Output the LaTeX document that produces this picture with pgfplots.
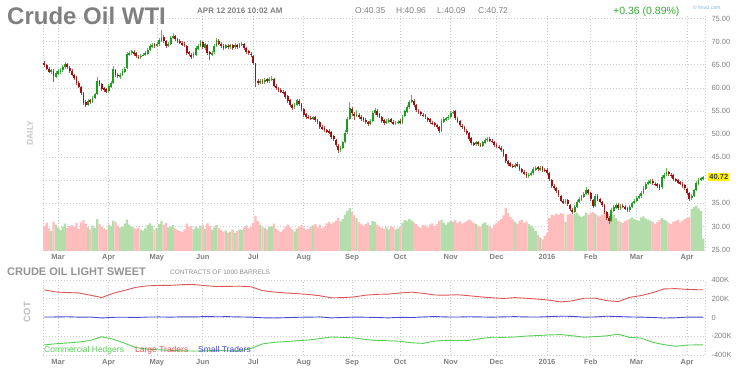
\documentclass[border=0pt]{standalone}
\usepackage{pgfplots}
\usepackage{pgfplotstable}
\pgfplotsset{compat=1.18}
\usepackage{fontspec}
\setmainfont{Liberation Sans}

\definecolor{gridc}{HTML}{CDCDCD}
\definecolor{labc}{HTML}{808080}
\definecolor{upc}{HTML}{1E9E1E}
\definecolor{dnc}{HTML}{A50E0E}
\definecolor{upw}{HTML}{5DB85D}
\definecolor{dnw}{HTML}{B85050}
\definecolor{volup}{HTML}{B3DEAB}
\definecolor{voldn}{HTML}{FFBDBD}
\definecolor{cotr}{HTML}{DD5555}
\definecolor{cotb}{HTML}{4848D8}
\definecolor{cotg}{HTML}{55D055}
\definecolor{gainc}{HTML}{35A835}
\definecolor{fvblue}{HTML}{7FB2E0}

\pgfplotstableread{
x o h l c v
-6 65.4 65.8 64.6 65.0 30.2
-5 65.0 65.2 63.8 64.2 30.8
-4 64.1 64.5 63.2 63.5 29.6
-3 63.4 64.2 63.0 63.8 29.0
-2 63.7 64.0 61.3 62.5 31.0
-1 62.4 63.6 62.1 63.2 30.4
0 63.1 64.0 62.7 63.6 29.8
1 63.5 64.3 63.1 63.9 29.2
2 63.8 65.0 63.5 64.6 30.0
3 64.5 65.6 64.2 65.2 30.6
4 65.1 65.4 64.1 64.5 29.7
5 64.4 64.7 63.3 63.6 30.1
6 63.7 64.0 62.6 62.9 30.3
7 62.8 63.1 61.8 62.2 29.9
8 62.3 62.6 60.7 61.0 30.8
9 61.1 61.4 59.9 60.3 29.5
10 60.2 60.5 58.4 58.8 30.9
11 58.9 59.1 56.4 56.8 31.4
12 56.9 57.3 55.8 56.2 30.5
13 56.3 57.6 56.0 57.2 29.8
14 57.3 57.7 56.5 56.9 29.4
15 56.9 58.3 56.7 57.9 30.2
16 57.8 59.0 57.5 58.6 29.7
17 58.7 62.3 58.5 61.5 31.6
18 61.4 61.8 60.4 60.8 30.5
19 60.9 61.1 59.4 59.8 30.0
20 59.9 60.3 59.2 59.6 29.6
21 59.7 60.0 58.8 59.2 29.3
22 59.3 60.8 59.0 60.4 30.4
23 60.3 61.4 60.0 61.0 30.1
24 61.1 64.8 60.9 64.0 31.3
25 63.9 64.2 62.4 62.8 31.0
26 62.9 63.3 62.1 62.5 30.2
27 62.4 63.3 62.0 62.9 29.8
28 62.8 64.0 62.5 63.6 30.0
29 63.5 64.6 63.2 64.2 30.6
30 64.3 67.8 64.1 67.3 31.5
31 67.2 68.0 66.8 67.6 30.4
32 67.5 68.3 67.1 67.9 30.0
33 67.8 68.2 67.0 67.4 29.7
34 67.5 67.7 66.5 66.9 29.5
35 66.8 67.1 66.2 66.6 29.8
36 66.6 67.4 66.3 67.0 29.3
37 67.0 67.6 66.8 67.2 29.1
38 67.1 67.9 66.8 67.5 29.6
39 67.4 68.6 67.1 68.2 30.3
40 68.1 69.5 67.9 69.1 30.7
41 69.0 69.8 68.7 69.3 30.2
42 69.4 69.7 68.6 69.0 29.4
43 69.1 69.9 68.8 69.5 29.7
44 69.4 70.7 69.1 70.3 30.5
45 70.2 72.5 69.9 71.0 31.2
46 71.1 71.4 69.8 70.2 30.4
47 70.1 70.4 68.7 69.0 30.8
48 69.1 70.0 68.8 69.6 29.8
49 69.5 71.2 69.2 70.8 30.0
50 70.9 71.8 70.5 71.2 30.3
51 71.3 71.5 70.2 70.6 29.6
52 70.5 70.9 69.7 70.1 29.2
53 70.2 70.5 69.4 69.8 29.0
54 69.7 70.1 69.1 69.5 28.8
55 69.6 70.0 68.8 69.2 29.4
56 69.1 69.3 67.2 67.6 30.6
57 67.7 68.0 66.9 67.3 29.9
58 67.2 67.6 66.3 66.8 30.1
59 66.9 67.7 66.5 67.3 29.4
60 67.2 69.0 67.0 68.6 30.0
61 68.5 69.4 68.2 69.0 29.6
62 69.1 70.4 68.8 70.0 30.2
63 69.9 70.2 68.4 68.8 30.4
64 68.7 69.8 68.3 69.4 29.5
65 69.3 69.6 67.2 67.6 30.7
66 67.7 68.0 66.1 67.3 30.1
67 67.2 68.0 66.9 67.6 29.3
68 67.7 69.4 67.4 69.0 29.8
69 69.1 70.7 68.8 70.3 30.3
70 70.2 70.5 69.2 69.6 29.7
71 69.5 69.9 68.6 69.0 29.2
72 69.1 69.4 68.2 68.6 28.9
73 68.7 69.6 68.4 69.2 29.1
74 69.1 69.5 68.5 68.9 28.7
75 68.8 69.6 68.5 69.2 28.9
76 69.3 69.5 68.3 68.7 29.3
77 68.8 69.7 68.5 69.3 28.6
78 69.2 69.6 68.4 68.8 29.0
79 68.9 69.8 68.6 69.4 29.4
80 69.3 70.0 69.0 69.6 29.2
81 69.5 69.7 68.2 68.6 29.8
82 68.7 68.9 67.4 67.8 30.2
83 67.9 68.2 67.1 67.5 29.6
84 67.4 67.8 66.7 67.1 29.9
85 67.0 67.2 65.0 65.4 30.8
86 65.3 65.5 60.2 61.4 32.3
87 61.5 61.9 60.6 61.0 31.2
88 61.1 62.0 60.8 61.6 30.4
89 61.5 61.9 60.9 61.3 30.0
90 61.2 62.2 60.9 61.8 29.7
91 61.9 62.2 61.1 61.5 29.4
92 61.4 62.3 61.1 61.9 29.9
93 61.8 62.5 61.5 62.0 30.1
94 61.9 62.1 60.1 60.5 30.6
95 60.4 60.8 59.5 59.9 29.5
96 60.0 60.3 59.2 59.6 29.1
97 59.5 59.9 58.9 59.3 28.8
98 59.2 59.6 58.6 59.0 29.3
99 59.1 59.3 57.7 58.1 30.0
100 58.2 58.4 56.8 57.2 30.4
101 57.3 57.5 55.9 56.3 29.8
102 56.2 56.5 55.3 55.7 29.4
103 55.8 56.8 55.5 56.4 28.9
104 56.3 57.7 56.0 57.3 29.6
105 57.2 57.5 56.1 56.5 30.0
106 56.6 56.8 55.1 55.5 30.3
107 55.4 55.6 53.8 54.2 29.7
108 54.3 54.6 53.3 53.7 29.2
109 53.8 54.2 53.2 53.6 29.5
110 53.5 53.9 53.0 53.4 29.9
111 53.3 54.0 53.0 53.6 30.2
112 53.7 53.9 52.7 53.1 30.5
113 53.0 53.3 52.2 52.6 29.8
114 52.7 52.9 51.2 51.6 30.4
115 51.5 51.9 50.9 51.3 29.6
116 51.4 51.7 50.5 50.9 30.0
117 50.8 51.2 50.3 50.7 30.7
118 50.6 51.0 50.1 50.5 31.0
119 50.4 50.6 49.0 49.4 30.5
120 49.5 49.8 48.5 48.9 30.9
121 48.8 49.0 47.2 47.6 31.3
122 47.5 47.8 46.0 46.6 31.8
123 46.7 47.4 46.2 46.9 31.1
124 47.0 48.6 46.7 48.2 31.6
125 48.3 50.8 48.0 50.3 32.6
126 50.4 53.8 50.1 53.2 33.4
127 53.3 57.0 53.0 55.6 34.0
128 55.5 55.9 54.0 54.5 33.2
129 54.4 54.8 53.0 53.9 32.4
130 54.0 55.2 53.6 54.3 31.8
131 54.2 54.6 53.3 53.7 31.0
132 53.8 54.1 52.9 53.3 30.6
133 53.4 53.8 52.7 53.1 30.2
134 53.0 53.4 52.2 52.6 30.5
135 52.7 52.9 51.7 52.1 30.9
136 52.2 53.2 51.9 52.8 30.3
137 52.9 55.0 52.6 54.6 31.2
138 54.5 55.6 54.2 55.2 31.0
139 55.1 55.4 53.8 54.2 30.4
140 54.3 54.6 53.4 53.8 30.0
141 53.7 54.0 52.5 52.9 29.7
142 53.0 53.2 51.9 52.3 29.5
143 52.4 53.2 52.1 52.8 29.9
144 52.7 53.5 52.4 53.1 29.4
145 53.2 53.4 52.3 52.7 30.1
146 52.6 53.0 51.9 52.3 29.8
147 52.4 52.9 52.0 52.5 29.3
148 52.4 53.1 52.1 52.7 29.6
149 52.8 53.2 52.2 52.6 29.9
150 52.5 54.2 52.2 53.8 30.8
151 53.9 55.3 53.6 54.9 31.4
152 54.8 56.3 54.5 55.9 31.2
153 55.8 57.4 55.5 57.0 31.6
154 57.1 58.5 56.8 57.3 31.3
155 57.2 57.5 55.9 56.3 30.9
156 56.4 56.6 54.8 55.2 30.5
157 55.1 55.5 54.3 54.7 30.0
158 54.8 55.1 53.9 54.3 29.7
159 54.2 54.6 53.6 54.0 30.3
160 54.1 54.4 53.2 53.6 30.2
161 53.5 53.8 52.7 53.1 29.8
162 53.2 53.4 52.2 52.6 30.4
163 52.5 52.9 51.9 52.3 30.7
164 52.4 52.7 51.6 52.0 30.1
165 51.9 52.2 51.1 51.5 30.5
166 51.6 51.8 50.2 50.6 31.2
167 50.7 53.2 50.4 52.8 31.5
168 52.7 53.6 52.3 53.2 30.8
169 53.1 53.8 52.8 53.4 30.4
170 53.5 54.2 53.1 53.8 30.9
171 53.7 55.0 53.4 54.6 31.3
172 54.7 55.3 54.3 54.8 31.0
173 54.9 55.2 53.0 53.4 31.4
174 53.3 53.6 52.3 52.7 30.8
175 52.8 53.0 51.5 51.9 31.1
176 51.8 52.2 51.1 51.5 30.6
177 51.6 51.8 50.4 50.8 30.9
178 50.7 51.0 49.8 50.2 31.2
179 50.3 50.5 48.6 49.0 31.5
180 49.1 49.3 47.7 48.1 31.3
181 48.0 48.4 47.5 47.9 30.8
182 47.8 48.6 47.5 48.2 30.5
183 48.3 48.5 47.4 47.8 30.2
184 47.7 48.1 47.2 47.6 30.0
185 47.5 48.6 47.2 48.2 30.6
186 48.1 49.1 47.8 48.7 30.9
187 48.8 49.4 48.4 48.9 30.3
188 49.0 49.3 48.2 48.6 30.1
189 48.5 48.9 48.0 48.4 29.6
190 48.3 48.6 47.2 47.6 30.4
191 47.7 48.0 47.0 47.4 30.8
192 47.3 47.7 46.8 47.2 31.2
193 47.1 47.4 46.1 46.5 31.6
194 46.6 46.8 45.1 45.5 32.4
195 45.6 45.8 43.8 44.2 34.0
196 44.1 44.5 43.2 43.6 32.9
197 43.7 44.0 42.8 43.2 32.1
198 43.1 43.5 42.6 43.0 31.5
199 42.9 43.8 42.6 43.4 31.0
200 43.5 43.9 42.9 43.3 30.6
201 43.2 43.5 42.0 42.4 31.2
202 42.5 42.7 41.5 41.9 31.5
203 41.8 42.2 41.1 41.5 30.8
204 41.4 41.7 40.5 40.9 31.1
205 41.0 41.6 40.6 41.2 30.5
206 41.3 42.0 40.9 41.6 30.2
207 41.5 42.8 41.2 42.4 29.8
208 42.3 43.1 42.0 42.7 29.0
209 42.8 43.1 42.1 42.5 28.2
210 42.4 43.1 42.1 42.7 27.6
211 42.8 43.0 41.9 42.3 27.2
212 42.2 42.6 41.7 42.1 28.0
213 42.2 42.7 41.2 41.6 28.6
214 41.5 41.8 39.8 40.2 31.8
215 40.1 40.3 38.3 38.7 32.6
216 38.8 39.2 38.0 38.4 32.4
217 38.3 38.6 37.2 37.6 32.8
218 37.7 37.9 36.4 36.8 32.5
219 36.7 36.9 35.2 35.6 32.9
220 35.5 35.9 34.9 35.3 32.7
221 35.2 36.0 34.9 35.6 31.0
222 35.7 35.9 34.4 34.8 32.6
223 34.7 34.9 33.3 33.7 32.8
224 33.6 34.0 32.7 33.1 32.5
225 33.2 34.6 32.9 34.2 32.7
226 34.3 35.8 34.0 35.4 33.0
227 35.3 36.3 35.0 35.9 32.4
228 35.8 36.9 35.5 36.5 32.1
229 36.4 37.4 36.1 37.0 32.3
230 37.1 38.6 36.8 37.9 33.0
231 37.8 38.2 36.9 37.3 32.6
232 37.2 37.4 35.5 35.9 32.9
233 35.8 36.0 34.0 34.4 33.1
234 34.5 37.0 34.2 36.6 32.8
235 36.7 37.0 35.6 36.0 32.4
236 35.9 36.2 35.0 35.4 32.2
237 35.3 35.6 34.2 34.6 32.6
238 34.7 34.9 32.8 33.2 33.0
239 33.1 33.3 31.5 31.9 32.9
240 31.8 32.2 30.6 31.2 32.7
241 31.3 33.9 31.0 33.5 33.2
242 33.4 34.6 33.1 34.2 32.5
243 34.1 35.0 33.8 34.6 31.8
244 34.7 35.0 33.6 34.0 31.3
245 33.9 34.8 33.6 34.4 31.0
246 34.5 34.9 33.9 34.3 30.8
247 34.2 34.6 33.5 33.9 31.2
248 34.0 34.3 33.2 33.6 31.5
249 33.5 34.7 33.2 34.3 31.7
250 34.2 35.4 33.9 35.0 32.0
251 35.1 36.0 34.8 35.6 31.6
252 35.5 36.5 35.2 36.1 31.4
253 36.2 37.0 35.9 36.6 31.2
254 36.5 37.6 36.2 37.2 32.0
255 37.3 38.7 37.0 38.3 32.2
256 38.2 39.7 37.9 39.3 31.7
257 39.4 40.1 39.0 39.6 31.5
258 39.5 40.2 39.1 39.8 31.3
259 39.9 40.2 39.0 39.4 31.0
260 39.3 39.7 38.7 39.1 30.6
261 39.2 39.5 38.4 38.8 30.9
262 38.9 39.1 38.0 38.4 31.4
263 38.5 41.1 38.2 40.7 31.8
264 40.6 41.6 40.3 41.2 31.5
265 41.3 42.6 41.0 41.8 31.2
266 41.9 42.1 40.9 41.3 30.8
267 41.2 41.6 40.6 41.0 30.5
268 41.1 41.3 39.9 40.3 31.0
269 40.2 40.6 39.6 40.0 31.2
270 40.1 40.3 39.1 39.5 31.5
271 39.6 39.8 39.0 39.4 30.9
272 39.3 39.6 38.4 38.8 31.3
273 38.9 39.1 37.9 38.3 31.6
274 38.2 38.4 36.9 37.3 31.8
275 37.2 37.4 35.6 36.0 32.0
276 36.1 37.0 35.7 36.6 33.8
277 36.7 38.2 36.4 37.8 34.2
278 37.9 39.8 37.6 39.4 34.5
279 39.3 40.5 39.0 40.1 33.9
280 40.2 40.8 39.8 40.4 33.4
281 40.35 40.96 40.09 40.72 27.4
}\candles

\pgfplotstableread{
x L S C
-6 295 5 -292
-1 272 6 -280
4 266 8 -272
9 262 4 -262
14 238 5 -245
19 213 -5 -205
24 258 2 -232
29 290 3 -275
34 322 0 -322
39 338 5 -338
44 342 6 -345
49 343 4 -350
54 350 7 -356
59 352 6 -358
64 340 10 -356
69 330 8 -352
74 332 9 -355
79 334 6 -357
84 328 4 -330
89 287 -3 -282
94 272 -5 -265
99 262 -2 -257
104 254 2 -248
109 246 4 -240
114 232 6 -225
119 210 -4 -208
124 212 0 -212
129 220 4 -218
134 238 3 -235
139 247 0 -246
144 250 -4 -248
149 262 2 -254
154 270 0 -270
159 258 6 -276
164 240 10 -252
169 238 6 -244
174 243 5 -246
179 232 8 -244
184 220 6 -225
189 210 4 -210
194 203 7 -212
199 212 9 -208
204 205 6 -198
209 196 5 -192
214 185 10 -186
219 166 14 -182
224 178 12 -195
229 205 4 -210
234 206 6 -204
239 180 14 -196
244 170 10 -178
249 215 6 -212
254 234 4 -220
259 265 0 -265
264 305 -6 -290
269 308 -3 -307
274 300 4 -294
279 296 4 -292
281 296 4 -292
}\cot

\pgfplotsset{
  fvaxis/.style={
    scale only axis,
    xmin=-6.6, xmax=281.8,
    axis line style={draw=none},
    major tick length=0pt,
    grid=major,
    major grid style={draw=gridc, line width=0.7pt, dash pattern=on 1pt off 2pt},
    xtick={0,22,43,63,85,107,128,149,171,191,213,232,252,274},
    xticklabels={Mar,Apr,May,Jun,Jul,Aug,Sep,Oct,Nov,Dec,2016,Feb,Mar,Apr},
    extra x ticks={-6.6,281.8},
    extra x tick labels={},
    extra x tick style={grid=major},
    xticklabel style={font=\fontsize{7.5}{8}\selectfont\bfseries, text=labc},
    yticklabel pos=right,
    yticklabel style={font=\fontsize{7.5}{8}\selectfont, text=labc, anchor=west, xshift=3pt},
    clip=false,
  },
  candle/.style 2 args={draw=none, mark=none,
    error bars/.cd, y dir=both, y explicit, error mark=none,
    error bar style={draw=#1, line width=#2, solid}},
}

\begin{document}
\begin{tikzpicture}[x=1pt,y=1pt]
\path[use as bounding box] (0,0) rectangle (750,380);

% ---------- price / volume panel ----------
\begin{axis}[fvaxis,
  at={(43pt,129pt)}, anchor=south west,
  width=662pt, height=237pt,
  ymin=24.7, ymax=76,
  ytick={25,30,35,40,45,50,55,60,65,70,75},
  yticklabels={25.00,30.00,35.00,,45.00,50.00,55.00,60.00,65.00,70.00,75.00},
]
% volume
\addplot[ybar, bar width=1, bar shift=0pt, fill=volup, draw=none,
  restrict expr to domain={\thisrow{c}-\thisrow{o}}{0:100}]
  table[x=x, y=v]{\candles};
\addplot[ybar, bar width=1, bar shift=0pt, fill=voldn, draw=none,
  restrict expr to domain={\thisrow{c}-\thisrow{o}}{-100:0}]
  table[x=x, y=v]{\candles};
% wicks
\addplot[restrict expr to domain={\thisrow{c}-\thisrow{o}}{0:100}, candle={upw}{0.7pt}]
  table[x=x, y expr={(\thisrow{h}+\thisrow{l})/2}, y error expr={(\thisrow{h}-\thisrow{l})/2}]{\candles};
\addplot[restrict expr to domain={\thisrow{c}-\thisrow{o}}{-100:0}, candle={dnw}{0.7pt}]
  table[x=x, y expr={(\thisrow{h}+\thisrow{l})/2}, y error expr={(\thisrow{h}-\thisrow{l})/2}]{\candles};
% bodies
\addplot[restrict expr to domain={\thisrow{c}-\thisrow{o}}{0:100}, candle={upc}{1.8pt}]
  table[x=x, y expr={(\thisrow{o}+\thisrow{c})/2}, y error expr={abs(\thisrow{c}-\thisrow{o})/2}]{\candles};
\addplot[restrict expr to domain={\thisrow{c}-\thisrow{o}}{-100:0}, candle={dnc}{1.8pt}]
  table[x=x, y expr={(\thisrow{o}+\thisrow{c})/2}, y error expr={abs(\thisrow{c}-\thisrow{o})/2}]{\candles};
% last price tag
\node[fill=yellow, text=black!75, font=\fontsize{7.5}{8}\selectfont\bfseries,
  inner sep=1.2pt, anchor=west] at (axis cs:281.8,40.72) [xshift=3pt] {40.72};
\end{axis}

% ---------- COT panel ----------
\begin{axis}[fvaxis,
  at={(43pt,25pt)}, anchor=south west,
  width=662pt, height=75pt,
  ymin=-400, ymax=400,
  ytick={-400,-200,0,200,400},
  yticklabels={-400K,-200K,0,200K,400K},
  xticklabel style={yshift=-1pt},
]
\addplot[cotr, line width=0.9pt] table[x=x, y=L]{\cot};
\addplot[cotb, line width=0.9pt] table[x=x, y=S]{\cot};
\addplot[cotg, line width=0.9pt] table[x=x, y=C]{\cot};
\end{axis}

% ---------- texts ----------
\node[anchor=base west, inner sep=0, font=\fontsize{24}{26}\selectfont\bfseries, text=labc]
  at (7,355) {Crude Oil WTI};
\node[anchor=base west, inner sep=0, font=\fontsize{8}{9}\selectfont\bfseries, text=labc]
  at (197,366) {APR 12 2016 10:02 AM};
\node[anchor=base west, inner sep=0, font=\fontsize{8.5}{9}\selectfont, text=labc]
  at (355,366) {O:40.35};
\node[anchor=base west, inner sep=0, font=\fontsize{8.5}{9}\selectfont, text=labc]
  at (396,366) {H:40.96};
\node[anchor=base west, inner sep=0, font=\fontsize{8.5}{9}\selectfont, text=labc]
  at (437,366) {L:40.09};
\node[anchor=base west, inner sep=0, font=\fontsize{8.5}{9}\selectfont, text=labc]
  at (478,366) {C:40.72};
\node[anchor=base west, inner sep=0, font=\fontsize{10.5}{12}\selectfont, text=gainc]
  at (613,365) {+0.36 (0.89\%)};
\node[anchor=base west, inner sep=0, font=\fontsize{5}{6}\selectfont, text=fvblue]
  at (693,370) {\textcopyright\ finviz.com};
\node[rotate=90, inner sep=0, font=\fontsize{8.5}{9}\selectfont\bfseries, text=black!22]
  at (30,247) {DAILY};
\node[rotate=90, inner sep=0, font=\fontsize{9.5}{10}\selectfont\bfseries, text=black!25]
  at (27,68) {COT};
\node[anchor=base west, inner sep=0, font=\fontsize{11}{12}\selectfont\bfseries, text=black!42]
  at (7,104) {CRUDE OIL LIGHT SWEET};
\node[anchor=base west, inner sep=0, font=\fontsize{6.5}{7}\selectfont, text=black!45]
  at (170,105) {CONTRACTS OF 1000 BARRELS};
\node[anchor=base west, inner sep=0, font=\fontsize{8.5}{9}\selectfont, text=cotg]
  at (44,27) {Commercial Hedgers};
\node[anchor=base west, inner sep=0, font=\fontsize{8.5}{9}\selectfont, text=cotr]
  at (135,27) {Large Traders};
\node[anchor=base west, inner sep=0, font=\fontsize{8.5}{9}\selectfont, text=cotb]
  at (198,27) {Small Traders};
\end{tikzpicture}
\end{document}
